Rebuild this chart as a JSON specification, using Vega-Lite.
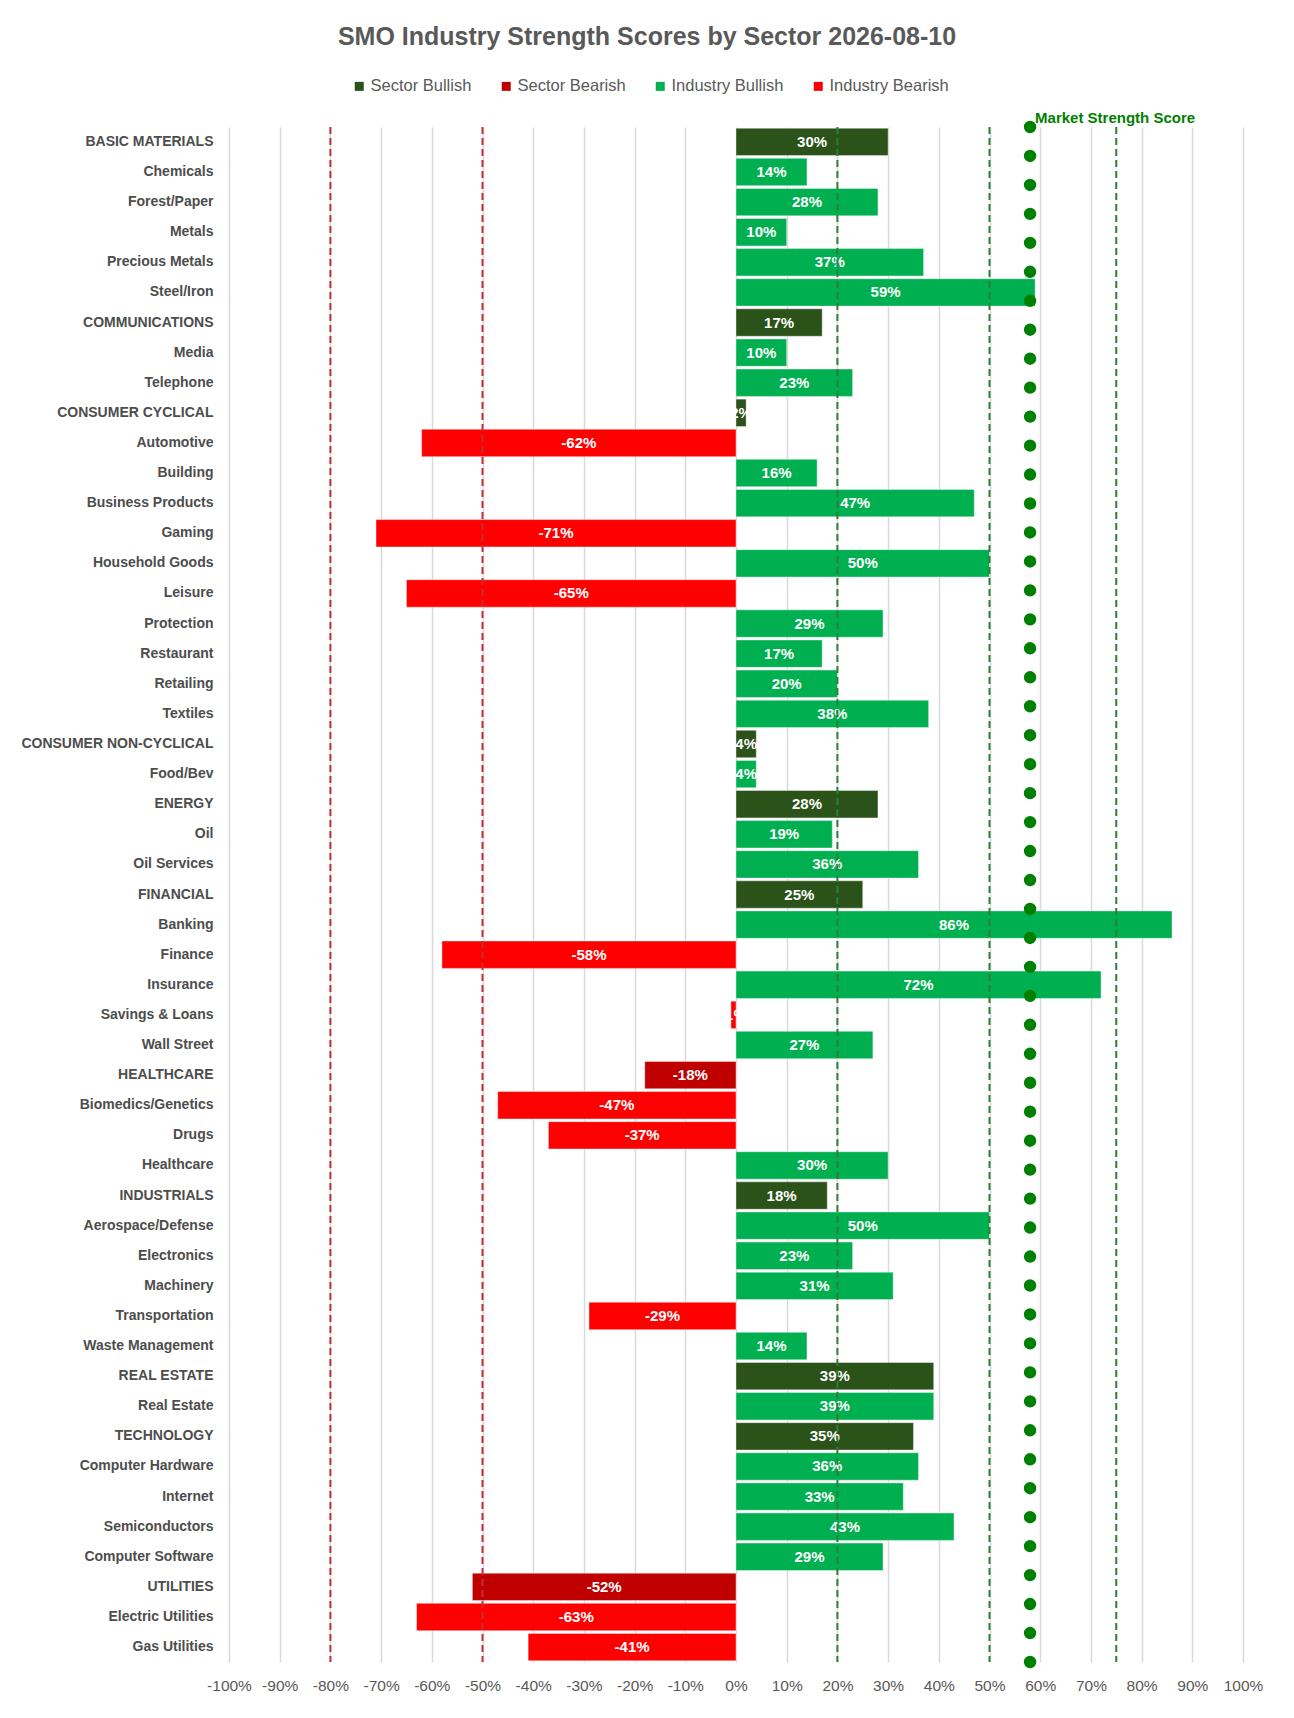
{
  "$schema": "https://vega.github.io/schema/vega-lite/v6.json",
  "width": 1014,
  "height": 1535,
  "autosize": {"type": "none"},
  "padding": {"left": 229, "top": 127, "right": 51, "bottom": 56},
  "background": "white",
  "title": {
    "text": "SMO Industry Strength Scores by Sector 2026-08-10",
    "font": "Liberation Sans",
    "fontSize": 25,
    "fontWeight": "bold",
    "color": "#595959",
    "anchor": "middle",
    "frame": "group",
    "dx": -89,
    "offset": 28
  },
  "config": {
    "view": {"stroke": null},
    "legend": {
      "orient": "none",
      "legendX": 122,
      "legendY": -49,
      "direction": "horizontal",
      "columns": 4,
      "symbolType": "square",
      "symbolSize": 81,
      "symbolStrokeWidth": 0,
      "labelFont": "Liberation Sans",
      "labelFontSize": 16.5,
      "labelColor": "#595959",
      "labelOffset": 3,
      "columnPadding": 26,
      "title": null
    }
  },
  "datasets": {
    "scores": [
      {"industry": "BASIC MATERIALS", "score": 30, "kind": "Sector Bullish"},
      {"industry": "Chemicals", "score": 14, "kind": "Industry Bullish"},
      {"industry": "Forest/Paper", "score": 28, "kind": "Industry Bullish"},
      {"industry": "Metals", "score": 10, "kind": "Industry Bullish"},
      {"industry": "Precious Metals", "score": 37, "kind": "Industry Bullish"},
      {"industry": "Steel/Iron", "score": 59, "kind": "Industry Bullish"},
      {"industry": "COMMUNICATIONS", "score": 17, "kind": "Sector Bullish"},
      {"industry": "Media", "score": 10, "kind": "Industry Bullish"},
      {"industry": "Telephone", "score": 23, "kind": "Industry Bullish"},
      {"industry": "CONSUMER CYCLICAL", "score": 2, "kind": "Sector Bullish"},
      {"industry": "Automotive", "score": -62, "kind": "Industry Bearish"},
      {"industry": "Building", "score": 16, "kind": "Industry Bullish"},
      {"industry": "Business Products", "score": 47, "kind": "Industry Bullish"},
      {"industry": "Gaming", "score": -71, "kind": "Industry Bearish"},
      {"industry": "Household Goods", "score": 50, "kind": "Industry Bullish"},
      {"industry": "Leisure", "score": -65, "kind": "Industry Bearish"},
      {"industry": "Protection", "score": 29, "kind": "Industry Bullish"},
      {"industry": "Restaurant", "score": 17, "kind": "Industry Bullish"},
      {"industry": "Retailing", "score": 20, "kind": "Industry Bullish"},
      {"industry": "Textiles", "score": 38, "kind": "Industry Bullish"},
      {"industry": "CONSUMER NON-CYCLICAL", "score": 4, "kind": "Sector Bullish"},
      {"industry": "Food/Bev", "score": 4, "kind": "Industry Bullish"},
      {"industry": "ENERGY", "score": 28, "kind": "Sector Bullish"},
      {"industry": "Oil", "score": 19, "kind": "Industry Bullish"},
      {"industry": "Oil Services", "score": 36, "kind": "Industry Bullish"},
      {"industry": "FINANCIAL", "score": 25, "kind": "Sector Bullish"},
      {"industry": "Banking", "score": 86, "kind": "Industry Bullish"},
      {"industry": "Finance", "score": -58, "kind": "Industry Bearish"},
      {"industry": "Insurance", "score": 72, "kind": "Industry Bullish"},
      {"industry": "Savings & Loans", "score": -1, "kind": "Industry Bearish"},
      {"industry": "Wall Street", "score": 27, "kind": "Industry Bullish"},
      {"industry": "HEALTHCARE", "score": -18, "kind": "Sector Bearish"},
      {"industry": "Biomedics/Genetics", "score": -47, "kind": "Industry Bearish"},
      {"industry": "Drugs", "score": -37, "kind": "Industry Bearish"},
      {"industry": "Healthcare", "score": 30, "kind": "Industry Bullish"},
      {"industry": "INDUSTRIALS", "score": 18, "kind": "Sector Bullish"},
      {"industry": "Aerospace/Defense", "score": 50, "kind": "Industry Bullish"},
      {"industry": "Electronics", "score": 23, "kind": "Industry Bullish"},
      {"industry": "Machinery", "score": 31, "kind": "Industry Bullish"},
      {"industry": "Transportation", "score": -29, "kind": "Industry Bearish"},
      {"industry": "Waste Management", "score": 14, "kind": "Industry Bullish"},
      {"industry": "REAL ESTATE", "score": 39, "kind": "Sector Bullish"},
      {"industry": "Real Estate", "score": 39, "kind": "Industry Bullish"},
      {"industry": "TECHNOLOGY", "score": 35, "kind": "Sector Bullish"},
      {"industry": "Computer Hardware", "score": 36, "kind": "Industry Bullish"},
      {"industry": "Internet", "score": 33, "kind": "Industry Bullish"},
      {"industry": "Semiconductors", "score": 43, "kind": "Industry Bullish"},
      {"industry": "Computer Software", "score": 29, "kind": "Industry Bullish"},
      {"industry": "UTILITIES", "score": -52, "kind": "Sector Bearish"},
      {"industry": "Electric Utilities", "score": -63, "kind": "Industry Bearish"},
      {"industry": "Gas Utilities", "score": -41, "kind": "Industry Bearish"}
    ],
    "bearLines": [{"level": -80}, {"level": -50}],
    "bullLines": [{"level": 20}, {"level": 50}, {"level": 75}],
    "market": [
      {"pos": 0, "score": 58}, {"pos": 1, "score": 58}, {"pos": 2, "score": 58},
      {"pos": 3, "score": 58}, {"pos": 4, "score": 58}, {"pos": 5, "score": 58},
      {"pos": 6, "score": 58}, {"pos": 7, "score": 58}, {"pos": 8, "score": 58},
      {"pos": 9, "score": 58}, {"pos": 10, "score": 58}, {"pos": 11, "score": 58},
      {"pos": 12, "score": 58}, {"pos": 13, "score": 58}, {"pos": 14, "score": 58},
      {"pos": 15, "score": 58}, {"pos": 16, "score": 58}, {"pos": 17, "score": 58},
      {"pos": 18, "score": 58}, {"pos": 19, "score": 58}, {"pos": 20, "score": 58},
      {"pos": 21, "score": 58}, {"pos": 22, "score": 58}, {"pos": 23, "score": 58},
      {"pos": 24, "score": 58}, {"pos": 25, "score": 58}, {"pos": 26, "score": 58},
      {"pos": 27, "score": 58}, {"pos": 28, "score": 58}, {"pos": 29, "score": 58},
      {"pos": 30, "score": 58}, {"pos": 31, "score": 58}, {"pos": 32, "score": 58},
      {"pos": 33, "score": 58}, {"pos": 34, "score": 58}, {"pos": 35, "score": 58},
      {"pos": 36, "score": 58}, {"pos": 37, "score": 58}, {"pos": 38, "score": 58},
      {"pos": 39, "score": 58}, {"pos": 40, "score": 58}, {"pos": 41, "score": 58},
      {"pos": 42, "score": 58}, {"pos": 43, "score": 58}, {"pos": 44, "score": 58},
      {"pos": 45, "score": 58}, {"pos": 46, "score": 58}, {"pos": 47, "score": 58},
      {"pos": 48, "score": 58}, {"pos": 49, "score": 58}, {"pos": 50, "score": 58},
      {"pos": 51, "score": 58}, {"pos": 52, "score": 58}, {"pos": 53, "score": 58}
    ],
    "marketLabel": [{"pos": 0, "score": 58, "label": "Market Strength Score"}]
  },
  "layer": [
    {
      "data": {"name": "scores"},
      "encoding": {
        "y": {
          "field": "industry", "type": "nominal", "sort": null,
          "scale": {"paddingInner": 0.09, "paddingOuter": 0.04},
          "axis": {
            "title": null, "domain": false, "ticks": false, "tickSize": 0,
            "labelFont": "Liberation Sans", "labelFontSize": 14,
            "labelFontWeight": "bold", "labelColor": "#4d4d4d",
            "labelPadding": 16, "labelLimit": 300
          }
        }
      },
      "layer": [
        {
          "mark": {"type": "bar", "stroke": "#ffffff", "strokeOpacity": 0.5, "strokeWidth": 0.8},
          "encoding": {
            "x": {
              "field": "score", "type": "quantitative",
              "scale": {"domain": [-100, 100], "nice": false},
              "axis": {
                "title": null, "values": [-100, -90, -80, -70, -60, -50, -40, -30, -20, -10, 0, 10, 20, 30, 40, 50, 60, 70, 80, 90, 100],
                "labelExpr": "(datum.value < 0 ? '-' : '') + abs(datum.value) + '%'",
                "labelOverlap": false, "labelFlush": false,
                "grid": true, "gridColor": "#d9d9d9", "gridWidth": 1.5,
                "domain": false, "ticks": false, "tickSize": 0,
                "labelFont": "Liberation Sans", "labelFontSize": 15.5,
                "labelColor": "#595959", "labelPadding": 16
              }
            },
            "x2": {"datum": 0},
            "color": {
              "field": "kind", "type": "nominal",
              "scale": {
                "domain": ["Sector Bullish", "Sector Bearish", "Industry Bullish", "Industry Bearish"],
                "range": ["#2a5219", "#c00000", "#00b050", "#ff0000"]
              }
            }
          }
        },
        {
          "transform": [
            {"calculate": "datum.score / 2", "as": "mid"},
            {"calculate": "datum.score + '%'", "as": "tag"}
          ],
          "mark": {"type": "text", "color": "white", "font": "Liberation Sans", "fontSize": 15, "fontWeight": "bold"},
          "encoding": {
            "x": {"field": "mid", "type": "quantitative"},
            "text": {"field": "tag", "type": "nominal"}
          }
        }
      ]
    },
    {
      "data": {"name": "bearLines"},
      "mark": {"type": "rule", "color": "#c0303a", "strokeWidth": 2, "strokeDash": [7, 4]},
      "encoding": {"x": {"field": "level", "type": "quantitative"}}
    },
    {
      "data": {"name": "bullLines"},
      "mark": {"type": "rule", "color": "#2f7d3a", "strokeWidth": 2, "strokeDash": [7, 4]},
      "encoding": {"x": {"field": "level", "type": "quantitative"}}
    },
    {
      "encoding": {
        "y": {"field": "pos", "type": "quantitative", "scale": {"domain": [0, 53], "reverse": true, "nice": false}, "axis": null},
        "x": {"field": "score", "type": "quantitative"}
      },
      "layer": [
        {
          "data": {"name": "market"},
          "mark": {"type": "circle", "color": "#008000", "opacity": 1, "size": 154}
        },
        {
          "data": {"name": "marketLabel"},
          "mark": {"type": "text", "color": "#008000", "font": "Liberation Sans", "fontSize": 15, "fontWeight": "bold", "align": "left", "dx": 5, "dy": -9},
          "encoding": {"text": {"field": "label", "type": "nominal"}}
        }
      ]
    }
  ],
  "resolve": {"scale": {"y": "independent"}}
}
